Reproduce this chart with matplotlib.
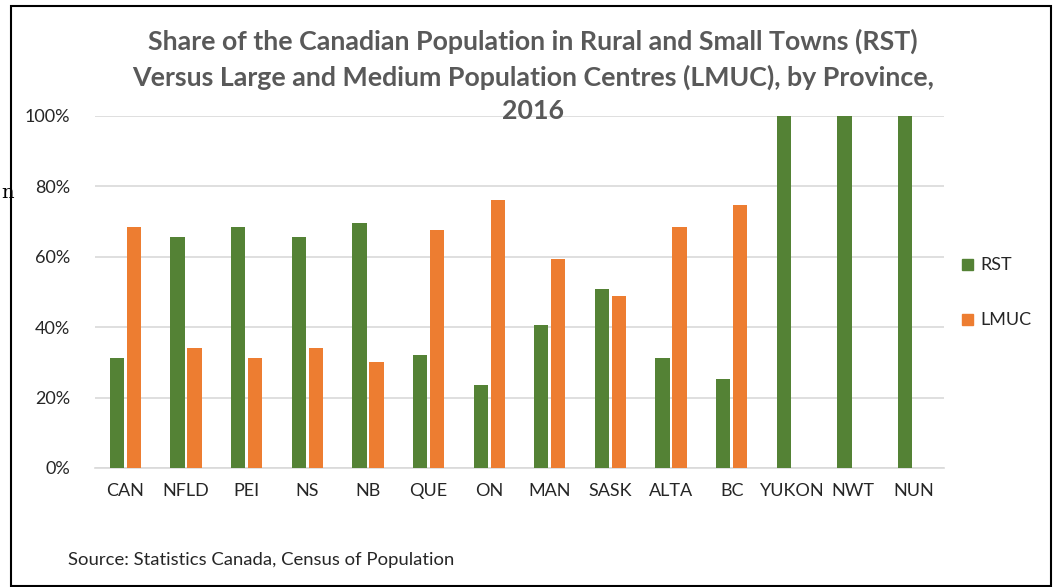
import matplotlib
matplotlib.use("Agg")
import matplotlib.pyplot as plt
import numpy as np
from matplotlib.patches import Rectangle

provinces = ["CAN", "NFLD", "PEI", "NS", "NB", "QUE", "ON", "MAN", "SASK",
             "ALTA", "BC", "YUKON", "NWT", "NUN"]
rst = [31.3, 65.7, 68.5, 65.7, 69.6, 32.0, 23.7, 40.5, 50.8, 31.2, 25.3,
       100, 100, 100]
lmuc = [68.5, 34.2, 31.2, 34.2, 30.2, 67.7, 76.2, 59.3, 49.0, 68.6, 74.6,
        0, 0, 0]
yticks = [0, 20, 40, 60, 80, 100]

plt.rcParams['font.family'] = ['Lato', 'DejaVu Sans']

W, H = 1055, 587
fig = plt.figure(figsize=(W / 100, H / 100), dpi=100)

ax = fig.add_axes([95 / W, (H - 468) / H, (944 - 95) / W, (468 - 116) / H])

x = np.arange(len(provinces))
bw = 0.235
ax.bar(x - 0.14, rst, bw, color='#548235', label='RST', zorder=3)
ax.bar(x + 0.14, lmuc, bw, color='#ED7D31', label='LMUC', zorder=3)

ax.set_xlim(-0.5, len(provinces) - 0.5)
ax.set_ylim(0, 100)
ax.set_yticks(yticks)
ax.set_yticklabels(["%d%%" % v for v in yticks])
ax.set_xticks(x)
ax.set_xticklabels(provinces)
ax.tick_params(length=0, labelsize=13, colors='#262626', pad=11)
ax.tick_params(axis='y', pad=18)
ax.grid(axis='y', color='#d9d9d9', lw=1.2, zorder=0)
for s in ['top', 'right', 'left']:
    ax.spines[s].set_visible(False)
ax.spines['bottom'].set_color('#d9d9d9')
ax.spines['bottom'].set_linewidth(1.2)

fig.text(533 / W, 1 - 29 / H,
         "Share of the Canadian Population in Rural and Small Towns (RST)\n"
         "Versus Large and Medium Population Centres (LMUC), by Province,\n"
         "2016", ha='center', va='top', fontsize=19.3, fontweight='bold',
         color='#595959', linespacing=1.47)

# legend
fig.patches.append(Rectangle((962 / W, 1 - 270 / H), 11 / W, 11 / H,
                             transform=fig.transFigure, color='#548235'))
fig.text(980 / W, 1 - 265 / H, "RST", va='center', fontsize=13, color='#262626')
fig.patches.append(Rectangle((962 / W, 1 - 325 / H), 11 / W, 11 / H,
                             transform=fig.transFigure, color='#ED7D31'))
fig.text(980 / W, 1 - 320 / H, "LMUC", va='center', fontsize=13, color='#262626')

fig.text(68 / W, 1 - 560 / H, "Source: Statistics Canada, Census of Population",
         va='center', fontsize=13.3, color='#262626')

# frame and stray glyph
fig.patches.append(Rectangle((11 / W, 1 - 586 / H), (1051 - 11) / W, (586 - 6) / H,
                             transform=fig.transFigure, fill=False,
                             edgecolor='black', lw=1.5))
fig.text(1 / W, 1 - 193 / H, "n", family='DejaVu Serif', fontsize=14,
         va='center', ha='left', color='black')

fig.savefig("out.png", dpi=100)
